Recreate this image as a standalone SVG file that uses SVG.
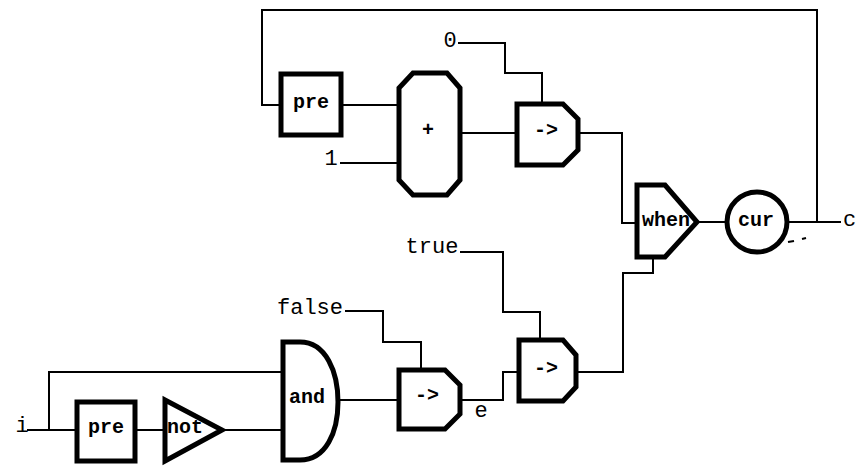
<svg xmlns="http://www.w3.org/2000/svg" width="857" height="466" viewBox="0 0 857 466">
<style>
.blk{fill:#fff;stroke:#000;stroke-width:5;stroke-linejoin:miter}
.wire{fill:none;stroke:#000;stroke-width:2}
.in{font-family:"Liberation Mono",monospace;font-weight:bold;font-size:20px;text-anchor:middle;fill:#000}
.lbl{font-family:"Liberation Mono",monospace;font-size:22px;fill:#000}
</style>
<rect width="857" height="466" fill="#fff"/>
<g id="connectors">
<polyline class="wire" points="817,222 817,10 262,10 262,105 281,105"/>
<line class="wire" x1="341" y1="105" x2="399" y2="105"/>
<line class="wire" x1="340" y1="163" x2="399" y2="163"/>
<line class="wire" x1="460" y1="133" x2="517" y2="133"/>
<polyline class="wire" points="458,43 505,43 505,73 542,73 542,102"/>
<polyline class="wire" points="578,133 622,133 622,223 637,223"/>
<line class="wire" x1="697" y1="222" x2="728" y2="222"/>
<line class="wire" x1="787" y1="222" x2="841" y2="222"/>
<polyline class="wire" points="460,252 503,252 503,312 540,312 540,340"/>
<polyline class="wire" points="576,372 623,372 623,273 653,273 653,257"/>
<polyline class="wire" points="345,311 383,311 383,342 421,342 421,370"/>
<line class="wire" x1="338" y1="400" x2="399" y2="400"/>
<polyline class="wire" points="460,400 503,400 503,372 519,372"/>
<line class="wire" x1="27" y1="430" x2="77" y2="430"/>
<polyline class="wire" points="49,430 49,372 283,372"/>
<line class="wire" x1="135" y1="430" x2="165" y2="430"/>
<line class="wire" x1="222" y1="430" x2="283" y2="430"/>
<line class="wire" x1="788" y1="242" x2="794" y2="241" stroke-width="1.5"/>
<line class="wire" x1="802" y1="239" x2="806" y2="238" stroke-width="1.5"/>
</g>
<g id="pre1"><rect class="blk" x="281" y="74" width="60" height="61"/><text class="in" x="311" y="108">pre</text></g>
<g id="plus"><polygon class="blk" points="413,73 447,73 460,88 460,180 447,195 413,195 399,180 399,88"/><text class="in" x="428" y="136">+</text></g>
<g id="arrow1"><path class="blk" d="M517,104 L563,104 L578,119 L578,150 L563,165 L517,165 Z"/><text class="in" x="546" y="136">-&gt;</text></g>
<g id="when"><path class="blk" d="M637,185 L665,185 L697,222 L665,257 L637,257 Z"/><text class="in" x="666" y="226">when</text></g>
<g id="cur"><circle class="blk" cx="757" cy="222" r="30"/><text class="in" x="756" y="226">cur</text></g>
<g id="arrow2"><path class="blk" d="M519,340 L563,340 L576,355 L576,387 L563,401 L519,401 Z"/><text class="in" x="546" y="374">-&gt;</text></g>
<g id="arrow3"><path class="blk" d="M399,370 L445,370 L460,385 L460,414 L445,429 L399,429 Z"/><text class="in" x="427" y="401">-&gt;</text></g>
<g id="and"><path class="blk" d="M283,342 L300,342 C326,342 338,372 338,402 C338,432 326,460 300,460 L283,460 Z"/><text class="in" x="307" y="403">and</text></g>
<g id="pre2"><rect class="blk" x="77" y="402" width="58" height="59"/><text class="in" x="106" y="433">pre</text></g>
<g id="not"><path class="blk" d="M165,400 L222,430 L165,461 Z"/><text class="in" x="167" y="433" style="text-anchor:start">not</text></g>
<g id="labels">
<text class="lbl" x="450" y="47" text-anchor="middle">0</text>
<text class="lbl" x="331" y="165" text-anchor="middle">1</text>
<text class="lbl" x="432" y="253" text-anchor="middle" font-size="23">true</text>
<text class="lbl" x="310" y="314" text-anchor="middle" font-size="23">false</text>
<text class="lbl" x="481" y="417" text-anchor="middle">e</text>
<text class="lbl" x="22" y="432" text-anchor="middle">i</text>
<text class="lbl" x="843" y="226">c</text>
</g>
</svg>
